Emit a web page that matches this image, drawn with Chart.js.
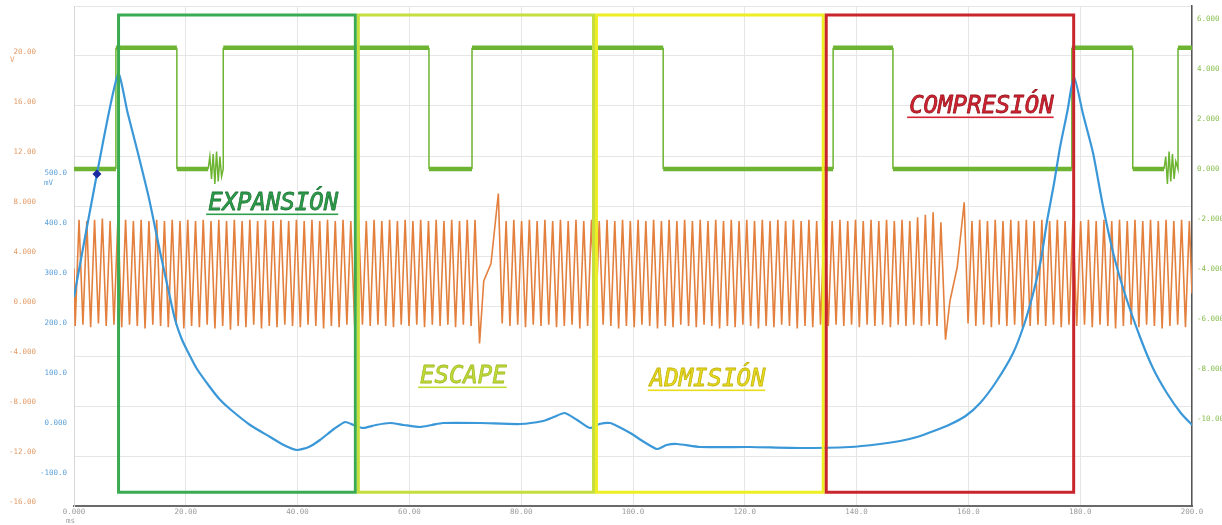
<!DOCTYPE html>
<html><head><meta charset="utf-8">
<script src="https://cdn.jsdelivr.net/npm/chart.js@4.4.0/dist/chart.umd.min.js"></script>
<style>html,body{margin:0;padding:0;background:#fff;overflow:hidden}canvas{display:block}</style>
</head><body>
<canvas id="c" width="1222" height="525"></canvas>
<script>
// ---- tick values ----
const xTicks = [0,20,40,60,80,100,120,140,160,180,200];
const orangeTicks = [-16,-12,-8,-4,0,4,8,12,16,20,24];
const blueTicks = [-100,0,100,200,300,400,500];
const greenTicks = [-10,-8,-6,-4,-2,0,2,4,6];

// ---- phases (ms) ----
const phaseEdges = [7.7, 50.6, 93.2, 134.3, 179.1];
const phaseNames = ['EXPANSIÓN','ESCAPE','ADMISIÓN','COMPRESIÓN'];

// ---- green trace (ms, V) right axis ----
const greenPts = [[0,0],[7.5,0],[7.5,4.85],[18.4,4.85],[18.4,0],[24.0,0],[24.3,0.5],[24.6,-0.4],[24.9,0.6],[25.2,-0.6],[25.5,0.7],[25.8,-0.5],[26.1,0.5],[26.4,-0.3],[26.7,0],[26.7,4.85],
 [63.5,4.85],[63.5,0],[71.2,0],[71.2,4.85],[105.4,4.85],[105.4,0],[135.8,0],[135.8,4.85],[146.5,4.85],[146.5,0],[178.5,0],[178.5,4.85],[189.4,4.85],[189.4,0],
 [195.0,0],[195.3,0.5],[195.6,-0.6],[195.9,0.7],[196.2,-0.5],[196.5,0.6],[196.8,-0.4],[197.1,0.3],[197.5,0],[197.5,4.85],[200,4.85]];

// ---- blue trace (ms, mV) ----
const bluePts = [[0,254],[4.1,500],[7.9,700],[9.6,622],[11.3,548],[13.4,452],[15.4,344],[17.0,262],[18.1,208],[19.2,172],[20.2,148],[22.0,110],[24.3,74],[26.0,50],[27.9,30],[31.5,-2],[35.1,-26],[37.5,-42],[39.9,-52],
 [42.0,-46],[44.0,-32],[46.5,-10],[48.5,4],[50.0,-2],[51.7,-8],[54.0,-2],[56.5,2],[59.0,-2],[61.9,-6],[64.0,-2],[66.0,2],[72.6,2],[79.8,0],[83.9,6],[85.8,14],[87.8,22],
 [90.0,8],[92.3,-8],[94.0,0],[95.9,2],[97.5,-6],[99.5,-18],[102.0,-36],[104.3,-50],[106.0,-42],[107.9,-40],[112.0,-46],[120.9,-46],[129.9,-48],[138.8,-46],
 [144.2,-40],[147.8,-34],[150.8,-26],[153.8,-14],[156.5,-2],[159.5,16],[162.1,42],[165.0,85],[168.0,142],[170.0,200],[171.6,262],[173.0,330],[174.1,408],
 [175.3,480],[176.4,554],[177.7,625],[178.9,694],[180.5,620],[182.3,542],[184.0,440],[185.9,342],[188.0,260],[190.7,174],[193.0,112],[195.5,62],[198.0,22],[200.0,-2]];

// ---- cursor marker on blue ----
const cursorPts = [[4.1,500]];

// ---- orange crank signal extrema (ms, V) ----
const orangePts = [
 [0.00,3.0],[0.21,-1.6],[0.90,6.9],[1.60,-1.5],[2.29,6.8],[2.98,-1.7],[3.68,6.9],[4.37,-1.4],[5.07,7.0],[5.76,-1.6],[6.46,6.8],[7.15,-1.5],
 [7.85,6.9],[8.54,-1.7],[9.23,6.9],[9.93,-1.5],[10.62,6.8],[11.32,-1.6],[12.01,6.9],[12.71,-1.8],[13.40,6.8],[14.10,-1.5],[14.79,6.9],[15.49,-1.6],
 [16.18,6.8],[16.87,-1.7],[17.57,6.9],[18.26,-1.5],[18.96,6.8],[19.65,-1.8],[20.35,6.9],[21.04,-1.6],[21.74,6.8],[22.43,-1.7],[23.12,6.9],[23.82,-1.5],
 [24.51,6.8],[25.21,-1.8],[25.90,6.9],[26.60,-1.6],[27.29,6.8],[27.99,-1.9],[28.68,6.9],[29.37,-1.6],[30.07,6.8],[30.76,-1.7],[31.46,6.9],[32.15,-1.5],
 [32.85,6.8],[33.54,-1.8],[34.24,6.9],[34.93,-1.6],[35.63,6.8],[36.32,-1.7],[37.01,6.9],[37.71,-1.5],[38.40,6.8],[39.10,-1.6],[39.79,6.9],[40.49,-1.7],
 [41.18,6.8],[41.87,-1.5],[42.57,6.9],[43.26,-1.6],[43.96,6.8],[44.65,-1.8],[45.35,6.9],[46.04,-1.6],[46.74,6.8],[47.43,-1.7],[48.13,6.9],[48.82,-1.5],
 [49.52,6.8],[50.21,-1.6],[50.90,6.9],[51.60,-1.5],[52.29,6.8],[52.99,-1.6],[53.68,6.9],[54.37,-1.5],[55.07,6.8],[55.76,-1.6],[56.46,6.9],[57.15,-1.7],
 [57.85,6.8],[58.54,-1.5],[59.24,6.9],[59.93,-1.6],[60.63,6.8],[61.32,-1.5],[62.02,6.9],[62.71,-1.7],[63.41,6.8],[64.10,-1.5],[64.79,6.9],[65.49,-1.6],
 [66.18,6.8],[66.88,-1.5],[67.57,6.9],[68.26,-1.7],[68.96,6.8],[69.65,-1.5],[70.35,6.9],[71.04,-1.6],[71.74,6.9],
 [72.55,-3.0],[73.30,2.0],[74.60,3.4],[75.91,9.0],[76.60,-1.4],
 [77.30,6.8],[77.99,-1.6],[78.68,6.9],[79.38,-1.5],[80.07,6.8],[80.77,-1.7],[81.46,6.9],[82.16,-1.5],[82.85,6.8],[83.54,-1.6],[84.24,6.9],[84.93,-1.5],
 [85.63,6.8],[86.32,-1.7],[87.02,6.9],[87.71,-1.6],[88.41,6.8],[89.10,-1.5],[89.80,6.9],[90.49,-1.8],[91.19,6.8],[91.88,-1.6],[92.57,6.9],[93.27,-1.7],
 [93.96,6.8],[94.66,-1.5],[95.35,6.9],[96.04,-1.6],[96.74,6.8],[97.43,-1.8],[98.13,6.9],[98.82,-1.6],[99.52,6.8],[100.21,-1.7],[100.91,6.9],[101.60,-1.5],
 [102.30,6.8],[102.99,-1.6],[103.69,6.9],[104.38,-1.8],[105.08,6.8],[105.77,-1.6],[106.46,6.9],[107.16,-1.7],[107.85,6.8],[108.55,-1.5],[109.24,6.9],[109.94,-1.6],
 [110.63,6.8],[111.32,-1.7],[112.02,6.9],[112.71,-1.5],[113.41,6.8],[114.10,-1.6],[114.80,6.9],[115.49,-1.8],[116.19,6.8],[116.88,-1.6],[117.58,6.9],[118.27,-1.7],
 [118.97,6.8],[119.66,-1.5],[120.35,6.9],[121.05,-1.6],[121.74,6.8],[122.44,-1.8],[123.13,6.9],[123.82,-1.6],[124.52,6.8],[125.21,-1.7],[125.91,6.9],[126.60,-1.5],
 [127.30,6.8],[127.99,-1.6],[128.69,6.9],[129.38,-1.8],[130.08,6.8],[130.77,-1.6],[131.47,6.9],[132.16,-1.7],[132.86,6.8],[133.55,-1.5],[134.24,6.9],[134.94,-1.6],
 [135.63,6.8],[136.33,-1.5],[137.02,6.9],[137.71,-1.6],[138.41,6.8],[139.10,-1.5],[139.80,6.9],[140.49,-1.7],[141.19,6.8],[141.88,-1.5],[142.58,6.9],[143.27,-1.6],
 [143.97,6.8],[144.66,-1.5],[145.36,6.9],[146.05,-1.7],[146.75,6.8],[147.44,-1.5],[148.13,6.9],[148.83,-1.6],[149.52,6.8],[150.22,-1.5],[150.91,7.1],[151.60,-1.6],
 [152.30,7.3],[152.99,-1.5],[153.69,7.5],[154.38,-1.6],[155.08,6.7],
 [155.90,-2.7],[156.70,0.4],[158.00,3.1],[159.25,8.3],[159.94,-1.4],
 [160.64,6.8],[161.33,-1.6],[162.02,6.9],[162.72,-1.5],[163.41,6.8],[164.11,-1.7],[164.80,6.9],[165.49,-1.5],[166.19,6.8],[166.88,-1.6],[167.58,6.9],[168.27,-1.5],
 [168.97,6.8],[169.66,-1.7],[170.36,6.9],[171.05,-1.6],[171.75,6.8],[172.44,-1.5],[173.14,6.9],[173.83,-1.6],[174.53,6.8],[175.22,-1.5],[175.91,6.9],[176.61,-1.7],
 [177.30,6.8],[177.99,-1.5],[178.69,6.9],[179.38,-1.6],[180.08,6.8],[180.77,-1.5],[181.47,6.9],[182.16,-1.7],[182.86,6.8],[183.55,-1.5],[184.25,6.9],[184.94,-1.6],
 [185.64,6.8],[186.33,-1.8],[187.03,6.9],[187.72,-1.6],[188.42,6.8],[189.11,-1.5],[189.80,6.9],[190.50,-1.7],[191.19,6.8],[191.88,-1.5],[192.58,6.9],[193.27,-1.6],
 [193.97,6.8],[194.66,-1.8],[195.36,6.9],[196.05,-1.6],[196.75,6.8],[197.44,-1.5],[198.14,6.9],[198.83,-1.7],[199.53,6.8],[200.00,1.0]
];

const toXY = arr => arr.map(p => ({x: p[0], y: p[1]}));
function fmt(v) {
  const a = Math.abs(v);
  if (a >= 100) return v.toFixed(1);
  if (a >= 10) return v.toFixed(2);
  return v.toFixed(3);
}
const tickFont = {family: 'DejaVu Sans Mono', size: 7.5};

const overlay = {
  id: 'overlay',
  afterDatasetsDraw(chart, args, opts) {
    const {ctx, scales} = chart;
    const x = scales.x, yo = scales.yO;
    const top = yo.getPixelForValue(opts.boxTop), bot = yo.getPixelForValue(opts.boxBottom);
    ctx.save();
    for (let i = 0; i < 4; i++) {
      const l = x.getPixelForValue(phaseEdges[i]) + 1.5;
      const r = x.getPixelForValue(phaseEdges[i + 1]) - 1.5;
      ctx.strokeStyle = opts.boxColors[i];
      ctx.lineWidth = opts.boxWidth;
      ctx.strokeRect(l, top, r - l, bot - top);
    }
    ctx.font = opts.labelFont;
    ctx.textAlign = 'left';
    ctx.textBaseline = 'alphabetic';
    ctx.lineJoin = 'round';
    for (let i = 0; i < 4; i++) {
      const p = opts.labelPos[i];
      const px = x.getPixelForValue(p[0]), py = yo.getPixelForValue(p[1]);
      ctx.fillStyle = opts.labelColors[i];
      ctx.strokeStyle = opts.labelEdge[i];
      ctx.lineWidth = 0.8;
      ctx.fillText(phaseNames[i], px, py);
      ctx.strokeText(phaseNames[i], px, py);
      const w = ctx.measureText(phaseNames[i]).width;
      ctx.fillRect(px - 2, py + 3.5, w + 2, 1.6);
    }
    ctx.restore();
  },
  afterDraw(chart) {
    const {ctx, scales} = chart;
    ctx.save();
    ctx.font = '7.5px "DejaVu Sans Mono"';
    ctx.textBaseline = 'middle';
    ctx.textAlign = 'left';
    ctx.fillStyle = '#e39a66';
    ctx.fillText('V', scales.yO.left + 10, scales.yO.getPixelForValue(20) + 4);
    ctx.fillStyle = '#5b9fd6';
    ctx.fillText('mV', scales.yB.left + 6, scales.yB.getPixelForValue(500) + 9);
    ctx.fillStyle = '#9a9a9a';
    ctx.fillText('ms', scales.x.getPixelForValue(0) - 8, scales.x.top + 15);
    ctx.restore();
  }
};

new Chart(document.getElementById('c'), {
  type: 'line',
  data: {
    datasets: [
      {label: 'cursor', data: toXY(cursorPts), yAxisID: 'yB', showLine: false, pointStyle: 'rectRot',
       pointRadius: 4.5, pointBackgroundColor: '#1b2aa0', pointBorderWidth: 0, order: 0},
      {label: 'blue', data: toXY(bluePts), yAxisID: 'yB', borderColor: '#3b98d8', borderWidth: 2.2,
       pointRadius: 0, tension: 0.2, order: 1},
      {label: 'green', data: toXY(greenPts), yAxisID: 'yG', borderColor: '#6cb431', borderWidth: 1.5,
       pointRadius: 0, tension: 0, order: 2,
       segment: {borderWidth: c => (c.p0.parsed.y === c.p1.parsed.y ? 4.5 : 1.5)}},
      {label: 'orange', data: toXY(orangePts), yAxisID: 'yO', borderColor: '#e4803e', borderWidth: 1.6,
       pointRadius: 0, tension: 0, order: 3}
    ]
  },
  options: {
    responsive: false,
    animation: false,
    devicePixelRatio: 1,
    layout: {padding: {top: 6, left: 0, right: 0, bottom: 0}},
    plugins: {
      legend: {display: false},
      tooltip: {enabled: false},
      overlay: {
        boxTop: 23.28, boxBottom: -14.9, boxWidth: 3,
        boxColors: ['#3aab52', '#c6df3e', '#eeee24', '#c8262c'],
        labelColors: ['#2f9e4c', '#c3dc38', '#e8dc1c', '#d42232'],
        labelEdge: ['#1f7a38', '#a4bc28', '#c4b410', '#9a1820'],
        labelFont: 'italic 24px "DejaVu Sans Mono"',
        labelPos: [[24.0, 7.68], [61.9, -6.16], [103.0, -6.4], [149.4, 15.44]]
      }
    },
    scales: {
      x: {
        type: 'linear', min: 0, max: 200,
        afterBuildTicks: s => { s.ticks = xTicks.map(v => ({value: v})); },
        ticks: {callback: v => fmt(v), font: tickFont, color: '#9a9a9a', padding: 2, maxRotation: 0, autoSkip: false},
        grid: {color: '#e6e6e6', drawTicks: false},
        border: {display: true, color: '#6a6a6a', width: 2},
        afterFit: s => { s.height = 19; s.paddingLeft = 0; s.paddingRight = 0; }
      },
      yO: {
        position: 'left', weight: 2, min: -16, max: 24,
        afterBuildTicks: s => { s.ticks = orangeTicks.map(v => ({value: v})); },
        ticks: {callback: v => (v === 24 ? '' : fmt(v)), font: tickFont, color: '#e39a66', padding: 2, labelOffset: -4, autoSkip: false},
        grid: {color: '#e6e6e6', drawTicks: false},
        border: {display: false},
        afterFit: s => { s.width = 38; s.paddingTop = 0; s.paddingBottom = 0; }
      },
      yB: {
        position: 'left', weight: 1, min: -164, max: 836,
        afterBuildTicks: s => { s.ticks = blueTicks.map(v => ({value: v})); },
        ticks: {callback: v => fmt(v), font: tickFont, color: '#5b9fd6', padding: 7, labelOffset: -1, autoSkip: false},
        grid: {display: false, drawTicks: false},
        border: {display: true, color: '#d6d6d6', width: 1},
        afterFit: s => { s.width = 36; s.paddingTop = 0; s.paddingBottom = 0; }
      },
      yG: {
        position: 'right', min: -13.48, max: 6.52,
        afterBuildTicks: s => { s.ticks = greenTicks.map(v => ({value: v})); },
        ticks: {callback: v => fmt(v), font: tickFont, color: '#88bd4f', padding: 5, autoSkip: false},
        grid: {display: false, drawTicks: false},
        border: {display: true, color: '#555555', width: 1.5},
        afterFit: s => { s.width = 30; s.paddingTop = 0; s.paddingBottom = 0; }
      }
    }
  },
  plugins: [overlay]
});
</script>
</body></html>
